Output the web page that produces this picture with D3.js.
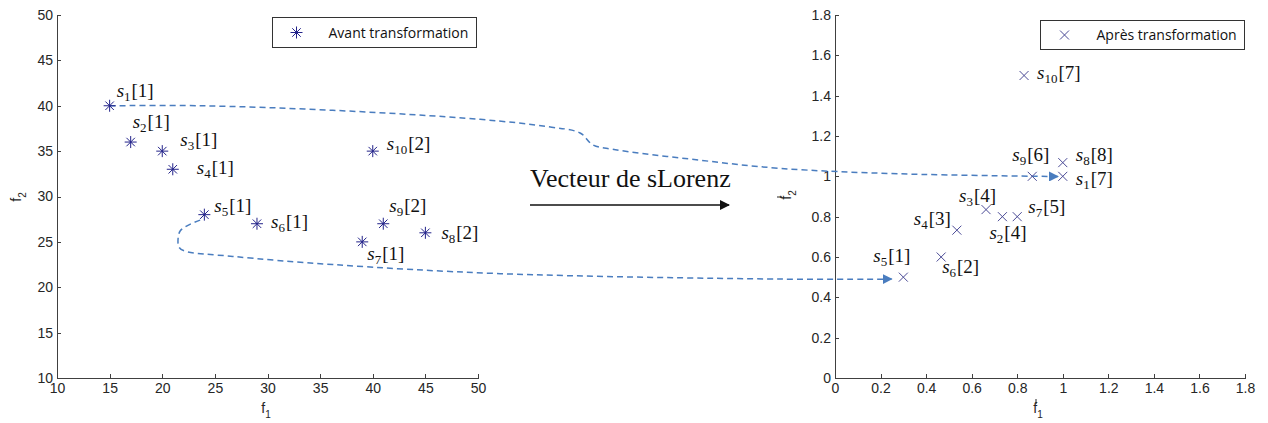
<!DOCTYPE html>
<html>
<head>
<meta charset="utf-8">
<script src="https://cdn.jsdelivr.net/npm/d3@7"></script>
<style>
  body { margin: 0; background: #fff; }
  .axis path, .axis line { stroke: #404040; shape-rendering: crispEdges; }
  .axis text { font-family: "Liberation Sans", Arial, sans-serif; font-size: 14px; fill: #262626; }
  .pt-label { font-family: "Liberation Serif", "Times New Roman", serif; font-size: 19px; fill: #111; }
  .legend-text { font-family: "Open Sans", sans-serif; font-size: 14px; fill: #111; }
  .axis-title { font-family: "Liberation Sans", Arial, sans-serif; font-size: 14px; fill: #262626; }
</style>
</head>
<body>
<div id="chart"></div>
<script>
// solutions s1..s10
const solutionIds = [1, 2, 3, 4, 5, 6, 7, 8, 9, 10];

// before transformation (left panel)
const avantF1 = [15, 17, 20, 21, 24, 29, 39, 45, 41, 40];
const avantF2 = [40, 36, 35, 33, 28, 27, 25, 26, 27, 35];
const avantRank = [1, 1, 1, 1, 1, 1, 1, 2, 2, 2];

// after transformation (right panel)
const apresF1 = [1.0, 0.735, 0.663, 0.535, 0.3, 0.466, 0.8, 1.0, 0.866, 0.83];
const apresF2 = [1.0, 0.8, 0.835, 0.733, 0.5, 0.6, 0.8, 1.068, 1.0, 1.5];
const apresRank = [7, 4, 4, 3, 1, 2, 5, 8, 6, 7];

// tick labels
const leftTicks = [10, 15, 20, 25, 30, 35, 40, 45, 50];
const rightTicks = [0, 0.2, 0.4, 0.6, 0.8, 1, 1.2, 1.4, 1.6, 1.8];

// dashed mapping curves, in left-panel (f1, f2) units
const curveS1 = [[15, 40], [23.6, 40.0], [36.2, 39.5], [50.2, 38.5], [56.6, 37.7], [59.7, 37.0],
                 [60.9, 35.7], [62.8, 35.2], [71.1, 34.0], [78.7, 33.1], [90.1, 32.5], [105.1, 32.2]];
const curveS5 = [[23.6, 27.4], [22.4, 26.8], [21.7, 26.2], [21.5, 25.3], [21.6, 24.4], [22.1, 24.0],
                 [26.7, 23.4], [36.2, 22.5], [52.1, 21.5], [78.7, 20.9], [89.3, 20.9]];

// label offsets from the marker (layout only)
const leftLabelOffsets = [[7, -9], [2, -14], [18, -5], [24, 5], [10, -3], [14, 4], [5, 18], [16, 6], [6, -12], [14, -1]];
const rightLabelOffsets = [[13, 9], [-13, 22], [-27, -8], [-43, -5], [-30, -15], [1, 16], [11, -4], [13, -2], [-20, -15], [13, 3]];

const W = 1268, H = 423;
const svg = d3.select('#chart').append('svg')
    .attr('width', W)
    .attr('height', H);

const defs = svg.append('defs');
defs.append('marker')
    .attr('id', 'blue-head')
    .attr('viewBox', '0 0 10 10')
    .attr('refX', 9).attr('refY', 5)
    .attr('markerWidth', 10).attr('markerHeight', 10)
    .attr('markerUnits', 'userSpaceOnUse')
    .attr('orient', 'auto')
  .append('path')
    .attr('d', 'M0,0L10,5L0,10Z')
    .attr('fill', '#4a7dbf');
defs.append('marker')
    .attr('id', 'black-head')
    .attr('viewBox', '0 0 10 10')
    .attr('refX', 9).attr('refY', 5)
    .attr('markerWidth', 11).attr('markerHeight', 10)
    .attr('markerUnits', 'userSpaceOnUse')
    .attr('orient', 'auto')
  .append('path')
    .attr('d', 'M0,0L10,5L0,10Z')
    .attr('fill', '#111');

// scales
const xL = d3.scaleLinear().domain([10, 50]).range([57, 478]);
const yL = d3.scaleLinear().domain([10, 50]).range([378, 15]);
const xR = d3.scaleLinear().domain([0, 1.8]).range([835, 1245]);
const yR = d3.scaleLinear().domain([0, 1.8]).range([378, 15]);

const fmt = d => String(+d.toFixed(1));

function drawAxes(x, y, ticks) {
  svg.append('g')
      .attr('class', 'axis')
      .attr('transform', `translate(0,${y.range()[0]})`)
      .call(d3.axisBottom(x).tickValues(ticks).tickFormat(fmt).tickSize(-4).tickSizeOuter(0).tickPadding(5));
  svg.append('g')
      .attr('class', 'axis')
      .attr('transform', `translate(${x.range()[0]},0)`)
      .call(d3.axisLeft(y).tickValues(ticks).tickFormat(fmt).tickSize(-4).tickSizeOuter(0).tickPadding(4));
}
drawAxes(xL, yL, leftTicks);
drawAxes(xR, yR, rightTicks);

// axis titles (prime drawn as a small stroke above the f)
function axisTitle(x, y, rotate, prime) {
  const g = svg.append('g')
      .attr('transform', `translate(${x},${y})` + (rotate ? ' rotate(-90)' : ''));
  const t = g.append('text')
      .attr('class', 'axis-title')
      .attr('text-anchor', 'middle');
  t.append('tspan').text('f');
  t.append('tspan').attr('dy', 5).style('font-size', '10px').text(rotate ? '2' : '1');
  if (prime) {
    g.append('line')
        .attr('x1', -2).attr('x2', -2)
        .attr('y1', -14).attr('y2', -9)
        .attr('stroke', '#262626')
        .attr('stroke-width', 1);
  }
}
axisTitle(266, 413, false, false);
axisTitle(21, 197, true, false);
axisTitle(1038, 413, false, true);
axisTitle(791, 195, true, true);

// dashed mapping curves
const curveLine = d3.line()
    .x(d => xL(d[0]))
    .y(d => yL(d[1]))
    .curve(d3.curveCatmullRom.alpha(0.5));
[curveS1, curveS5].forEach(c => {
  svg.append('path')
      .attr('d', curveLine(c))
      .attr('fill', 'none')
      .attr('stroke', '#4a7dbf')
      .attr('stroke-width', 1.5)
      .attr('stroke-dasharray', '6,4')
      .attr('marker-end', 'url(#blue-head)');
});

// markers
const asterisk = r => {
  const d = r * Math.SQRT1_2;
  return `M${-r},0H${r}M0,${-r}V${r}M${-d},${-d}L${d},${d}M${-d},${d}L${d},${-d}`;
};
const cross = r => `M${-r},${-r}L${r},${r}M${-r},${r}L${r},${-r}`;

const leftData = solutionIds.map((id, i) => ({id, f1: avantF1[i], f2: avantF2[i], rank: avantRank[i], off: leftLabelOffsets[i]}));
const rightData = solutionIds.map((id, i) => ({id, f1: apresF1[i], f2: apresF2[i], rank: apresRank[i], off: rightLabelOffsets[i]}));

function drawPoints(data, x, y, shape, color) {
  svg.append('g').selectAll('path')
    .data(data)
    .join('path')
      .attr('transform', d => `translate(${x(d.f1)},${y(d.f2)})`)
      .attr('d', shape)
      .attr('fill', 'none')
      .attr('stroke', color)
      .attr('stroke-width', 1);

  const lab = svg.append('g').selectAll('text')
    .data(data)
    .join('text')
      .attr('class', 'pt-label')
      .attr('x', d => x(d.f1) + d.off[0])
      .attr('y', d => y(d.f2) + d.off[1]);
  lab.append('tspan').style('font-style', 'italic').text('s');
  lab.append('tspan').attr('dy', 4).style('font-size', '13px').text(d => d.id);
  lab.append('tspan').attr('dy', -4).attr('dx', 1).text(d => `[${d.rank}]`);
}
drawPoints(leftData, xL, yL, asterisk(6), '#23238a');
drawPoints(rightData, xR, yR, cross(4.5), '#4b4b96');

// legends
function legend(x0, y0, w, h, shape, color, label) {
  const g = svg.append('g').attr('transform', `translate(${x0},${y0})`);
  g.append('rect')
      .attr('width', w).attr('height', h)
      .attr('fill', '#fff')
      .attr('stroke', '#333');
  g.append('path')
      .attr('transform', `translate(${24},${h / 2})`)
      .attr('d', shape)
      .attr('fill', 'none')
      .attr('stroke', color);
  g.append('text')
      .attr('class', 'legend-text')
      .attr('x', 56)
      .attr('y', h / 2 + 5)
      .text(label);
}
legend(272.5, 17.5, 204, 30, asterisk(6), '#23238a', 'Avant transformation');
legend(1040.5, 20.5, 204, 29, cross(4.5), '#4b4b96', 'Après transformation');

// centre annotation
svg.append('text')
    .attr('x', 530)
    .attr('y', 187)
    .style('font-family', '"Liberation Serif", "Times New Roman", serif')
    .style('font-size', '26px')
    .style('fill', '#111')
    .text('Vecteur de sLorenz');
svg.append('line')
    .attr('x1', 530).attr('y1', 205)
    .attr('x2', 729).attr('y2', 205)
    .attr('stroke', '#111')
    .attr('stroke-width', 1.5)
    .attr('marker-end', 'url(#black-head)');
</script>
</body>
</html>
